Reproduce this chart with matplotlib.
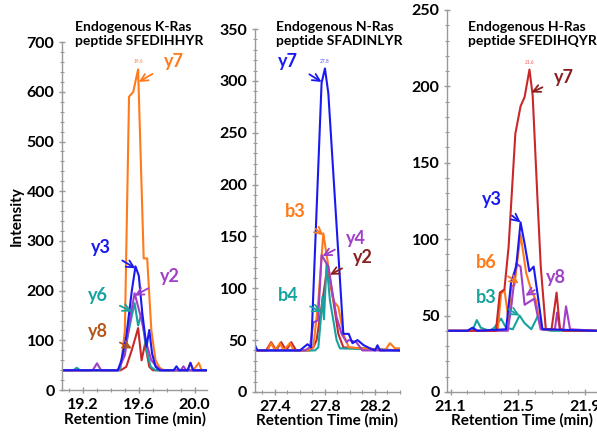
import matplotlib
matplotlib.use("Agg")
import matplotlib.pyplot as plt
from matplotlib.ticker import MultipleLocator

plt.rcParams['font.family'] = ['Lato', 'DejaVu Sans']
plt.rcParams['font.weight'] = 'bold'

ORANGE = "#FF7A1A"
BLUE = "#1A1AF0"
PURPLE = "#A040C8"
TEAL = "#17A2A0"
RED = "#C8282A"
DKRED = "#8B1E1E"
BROWN = "#B5561C"

# ---- K-Ras panel (time, intensity) ----
k_y7_t = [19.05, 19.44, 19.47, 19.50, 19.53, 19.56, 19.595, 19.635, 19.66, 19.69, 19.72, 19.75, 19.78, 19.95, 19.97, 19.99, 20.03, 20.05, 20.09]
k_y7_v = [40, 40, 45, 120, 590, 600, 645, 265, 265, 120, 60, 45, 40, 40, 55, 40, 55, 40, 40]
k_y3_t = [19.05, 19.45, 19.475, 19.51, 19.55, 19.576, 19.60, 19.625, 19.655, 19.675, 19.695, 19.72, 19.75, 19.85, 19.87, 19.89, 19.95, 19.97, 19.99, 20.09]
k_y3_v = [40, 40, 60, 108, 200, 249, 230, 155, 87, 121, 74, 47, 40, 40, 48, 40, 40, 55, 40, 40]
k_y2_t = [19.05, 19.27, 19.30, 19.33, 19.45, 19.50, 19.54, 19.57, 19.62, 19.655, 19.69, 19.73, 19.76, 19.90, 19.92, 19.94, 20.09]
k_y2_v = [40, 40, 54, 40, 40, 70, 150, 195, 141, 94, 60, 47, 40, 40, 48, 40, 40]
k_y6_t = [19.05, 19.13, 19.155, 19.18, 19.46, 19.52, 19.55, 19.57, 19.595, 19.62, 19.65, 19.685, 19.72, 20.09]
k_y6_v = [40, 40, 45, 40, 40, 108, 150, 175, 130, 155, 87, 47, 40, 40]
k_y8_t = [19.05, 19.47, 19.51, 19.55, 19.575, 19.595, 19.62, 19.645, 19.675, 19.70, 20.09]
k_y8_v = [40, 40, 47, 81, 105, 125, 60, 94, 47, 40, 40]

# ---- N-Ras panel ----
n_y7_t = [27.24, 27.26, 27.28, 27.60, 27.66, 27.69, 27.773, 27.80, 27.827, 27.947, 27.99, 28.02, 28.06, 28.11, 28.16, 28.20, 28.22, 28.24, 28.40]
n_y7_v = [45, 40, 40, 40, 46, 43, 298, 312, 288, 56, 56, 47, 50, 45, 42, 40, 45, 40, 40]
n_b3_t = [27.24, 27.34, 27.37, 27.40, 27.44, 27.47, 27.52, 27.55, 27.66, 27.707, 27.747, 27.787, 27.827, 27.867, 27.907, 27.947, 27.99, 28.28, 28.32, 28.36, 28.40]
n_b3_v = [40, 40, 47, 40, 47, 40, 47, 40, 40, 43, 88, 153, 121, 88, 82, 56, 43, 40, 47, 42, 42]
n_y4_t = [27.24, 27.64, 27.68, 27.707, 27.745, 27.773, 27.827, 27.853, 27.893, 27.933, 27.973, 27.99, 28.05, 28.10, 28.40]
n_y4_v = [40, 40, 43, 67, 69, 132, 121, 101, 72, 56, 48, 50, 48, 40, 40]
n_y2_t = [27.24, 27.33, 27.37, 27.41, 27.45, 27.49, 27.53, 27.57, 27.68, 27.707, 27.733, 27.773, 27.82, 27.867, 27.907, 27.947, 28.40]
n_y2_v = [40, 40, 48, 40, 48, 40, 48, 40, 40, 43, 50, 82, 121, 88, 56, 43, 40]
n_b4_t = [27.24, 27.26, 27.72, 27.747, 27.768, 27.781, 27.792, 27.813, 27.84, 27.867, 27.893, 27.92, 28.40]
n_b4_v = [45, 40, 40, 43, 72, 92, 70, 124, 88, 69, 50, 42, 40]

# ---- H-Ras panel ----
h_y7_t = [21.08, 21.37, 21.393, 21.42, 21.445, 21.485, 21.516, 21.54, 21.569, 21.588, 21.617, 21.636, 21.666, 21.70, 21.73, 21.75, 21.77, 21.97]
h_y7_v = [40, 40, 65, 67, 95, 169, 187, 193, 211, 194, 125, 82, 41, 41, 65, 41, 40, 40]
h_y3_t = [21.08, 21.20, 21.23, 21.26, 21.43, 21.46, 21.49, 21.516, 21.54, 21.568, 21.594, 21.617, 21.646, 21.97]
h_y3_v = [40, 40, 42, 40, 41, 72, 82, 111, 97, 79, 82, 64, 41, 40]
h_b6_t = [21.08, 21.38, 21.40, 21.42, 21.445, 21.46, 21.48, 21.516, 21.549, 21.578, 21.607, 21.636, 21.97]
h_b6_v = [40, 40, 64, 67, 47, 69, 70, 103, 78, 67, 60, 41, 40]
h_y8_t = [21.08, 21.44, 21.46, 21.49, 21.516, 21.54, 21.568, 21.597, 21.617, 21.636, 21.72, 21.733, 21.75, 21.77, 21.786, 21.81, 21.97]
h_y8_v = [40, 40, 55, 84, 82, 57, 59, 61, 50, 41, 41, 52, 41, 41, 56, 41, 40]
h_b3_t = [21.08, 21.23, 21.256, 21.28, 21.33, 21.36, 21.40, 21.43, 21.47, 21.51, 21.54, 21.58, 21.62, 21.646, 21.70, 21.97]
h_b3_v = [40, 40, 47, 42, 40, 42, 48, 42, 41, 50, 45, 41, 50, 41, 40, 40]

fig = plt.figure(figsize=(5.97, 4.34), dpi=100)


def style_axis(ax, xlim, ylim, xticks, ymajor, yminor, xminor):
    ax.set_xlim(*xlim)
    ax.set_ylim(*ylim)
    ax.set_xticks(xticks)
    ax.xaxis.set_minor_locator(MultipleLocator(xminor))
    ax.yaxis.set_major_locator(MultipleLocator(ymajor))
    ax.yaxis.set_minor_locator(MultipleLocator(yminor))
    for s in ["top", "right"]:
        ax.spines[s].set_visible(False)
    for s in ["left", "bottom"]:
        ax.spines[s].set_color("#999999")
        ax.spines[s].set_linewidth(1.0)
    ax.tick_params(axis="both", which="major", labelsize=11.5, color="#999999", length=4, width=1, direction="inout")
    ax.tick_params(axis="both", which="minor", color="#999999", length=3, width=0.8, direction="inout")
    for lab in ax.get_xticklabels() + ax.get_yticklabels():
        lab.set_fontweight("bold")
    ax.set_xlabel("Retention Time (min)", fontsize=11, fontweight="bold", labelpad=0)


def note(ax, text, color, xy, xytext, acolor=None):
    ax.annotate(text, xy=xy, xytext=xytext, color=color, fontsize=13, fontweight="bold",
                ha="center", va="center",
                arrowprops=dict(arrowstyle="->", color=acolor or color, lw=1.3,
                                shrinkA=7, shrinkB=0))


def title(x_px, text):
    fig.text(x_px / 597, 1 - 34 / 434, text, ha="left", va="center",
             fontsize=10, fontweight="bold", linespacing=1.2)


lw = 1.5

# Panel 1
ax1 = fig.add_axes([0.104, 0.101, 0.243, 0.802])
ax1.plot(k_y7_t, k_y7_v, color=ORANGE, lw=lw)
ax1.plot(k_y8_t, k_y8_v, color=RED, lw=lw)
ax1.plot(k_y6_t, k_y6_v, color=TEAL, lw=lw)
ax1.plot(k_y2_t, k_y2_v, color=PURPLE, lw=lw)
ax1.plot(k_y3_t, k_y3_v, color=BLUE, lw=lw)
style_axis(ax1, (19.05, 20.09), (0, 700), [19.2, 19.6, 20.0], 100, 20, 0.1)
ax1.set_ylabel("Intensity", fontsize=11, fontweight="bold", labelpad=2)
title(75, "Endogenous K-Ras\npeptide SFEDIHHYR")
note(ax1, "y7", ORANGE, (19.6, 620), (19.85, 661))
note(ax1, "y3", BLUE, (19.576, 245), (19.33, 286))
note(ax1, "y2", PURPLE, (19.57, 190), (19.82, 228))
note(ax1, "y6", TEAL, (19.55, 158), (19.31, 191))
note(ax1, "y8", BROWN, (19.55, 84), (19.31, 117))
ax1.text(19.595, 655, "19.6", color="#F4A070", fontsize=3.5, ha="center", va="bottom")

# Panel 2
ax2 = fig.add_axes([0.427, 0.097, 0.243, 0.836])
ax2.plot(n_y2_t, n_y2_v, color=RED, lw=lw)
ax2.plot(n_b4_t, n_b4_v, color=TEAL, lw=lw)
ax2.plot(n_b3_t, n_b3_v, color=ORANGE, lw=lw)
ax2.plot(n_y4_t, n_y4_v, color=PURPLE, lw=lw)
ax2.plot(n_y7_t, n_y7_v, color=BLUE, lw=lw)
style_axis(ax2, (27.24, 28.40), (0, 350), [27.4, 27.8, 28.2], 50, 10, 0.1)
title(276, "Endogenous N-Ras\npeptide SFADINLYR")
note(ax2, "y7", BLUE, (27.773, 299), (27.507, 319))
note(ax2, "b3", ORANGE, (27.787, 151), (27.56, 174))
note(ax2, "y4", PURPLE, (27.78, 131), (28.05, 148))
note(ax2, "y2", DKRED, (27.84, 113), (28.107, 130))
note(ax2, "b4", TEAL, (27.773, 77), (27.507, 93))
ax2.text(27.8, 316, "27.8", color="#8080FF", fontsize=3.5, ha="center", va="bottom")

# Panel 3
ax3 = fig.add_axes([0.749, 0.097, 0.251, 0.880])
ax3.plot(h_b3_t, h_b3_v, color=TEAL, lw=lw)
ax3.plot(h_b6_t, h_b6_v, color=ORANGE, lw=lw)
ax3.plot(h_y8_t, h_y8_v, color=PURPLE, lw=lw)
ax3.plot(h_y7_t, h_y7_v, color=RED, lw=lw)
ax3.plot(h_y3_t, h_y3_v, color=BLUE, lw=lw)
style_axis(ax3, (21.08, 21.97), (0, 250), [21.1, 21.5, 21.9], 50, 10, 0.1)
title(468, "Endogenous H-Ras\npeptide SFEDIHQYR")
note(ax3, "y7", DKRED, (21.58, 196), (21.774, 206))
note(ax3, "y3", BLUE, (21.516, 111), (21.344, 126))
note(ax3, "b6", ORANGE, (21.505, 71), (21.315, 85))
note(ax3, "y8", PURPLE, (21.545, 63), (21.725, 75))
note(ax3, "b3", TEAL, (21.51, 50), (21.315, 62))
ax3.text(21.569, 214, "21.6", color="#F08080", fontsize=3.5, ha="center", va="bottom")

fig.savefig("out.png", dpi=100)
